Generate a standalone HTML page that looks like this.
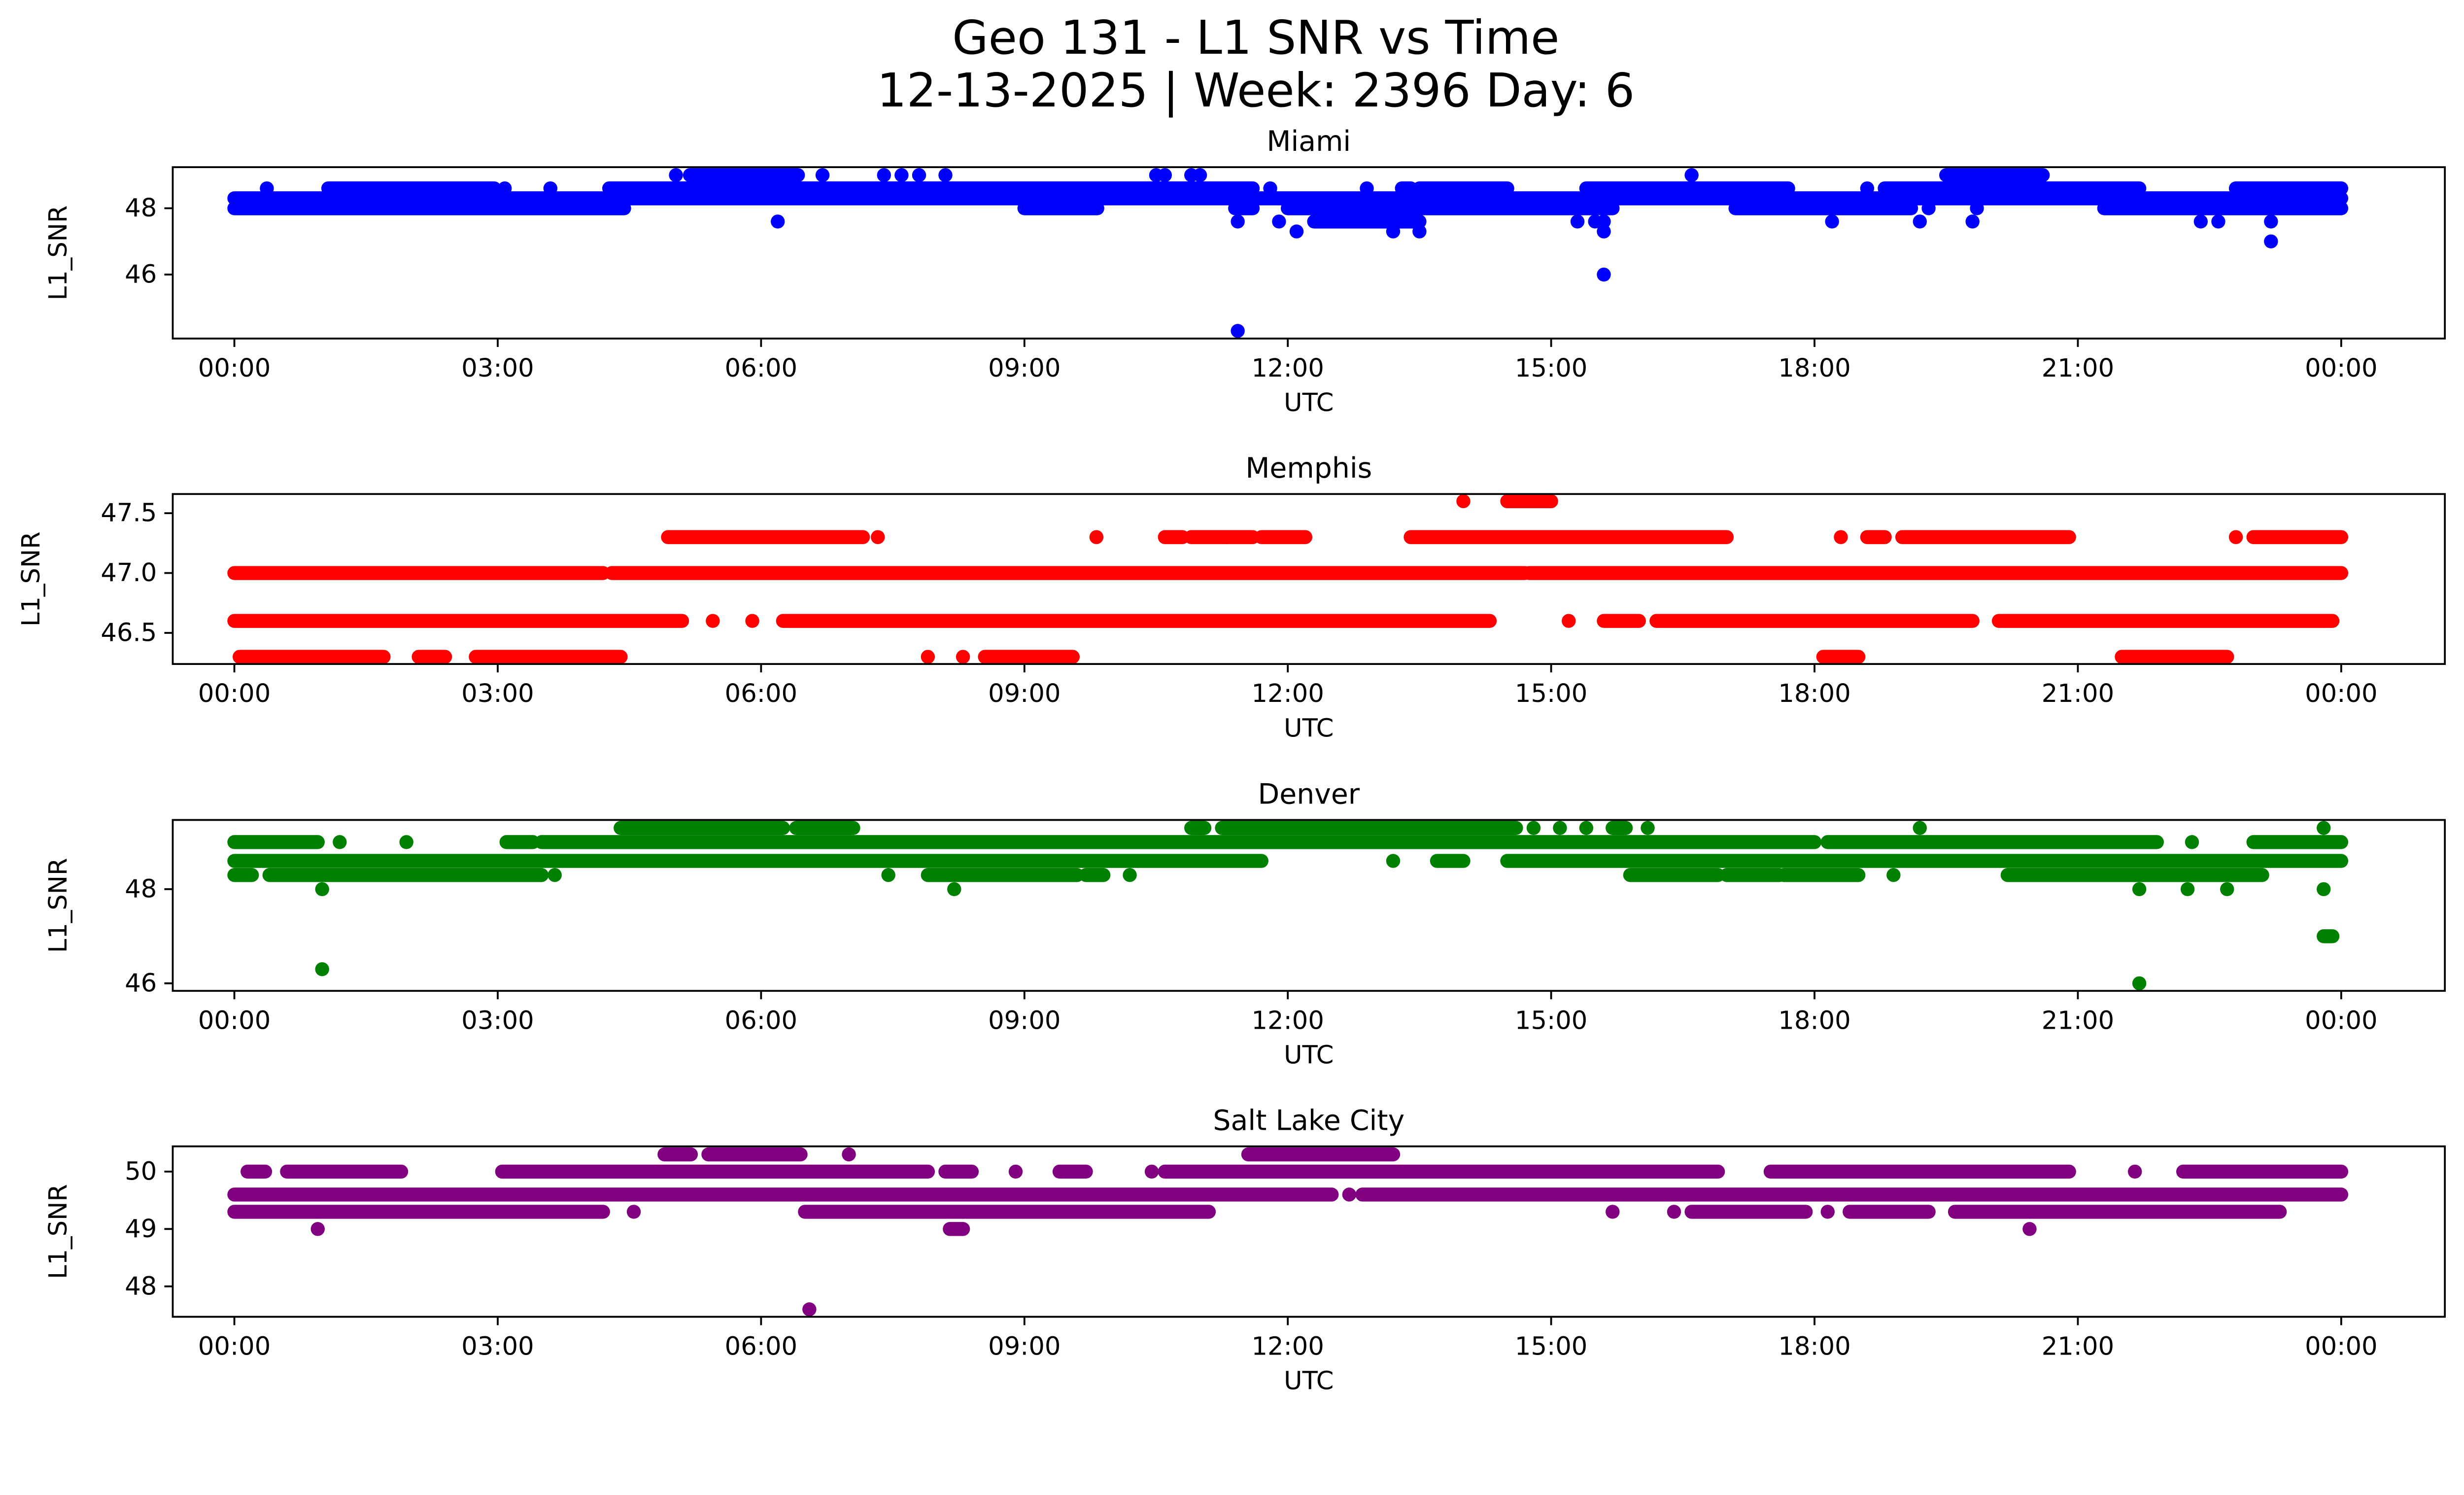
<!DOCTYPE html>
<html><head><meta charset="utf-8"><style>
html,body{margin:0;padding:0;background:#fff;overflow:hidden;}
#chart{display:block;width:100vw;height:calc(100vw * 3033 / 5278);}
svg text{font-family:"DejaVu Sans","Liberation Sans",sans-serif;fill:#000;}
</style></head><body>
<svg id="chart" xmlns="http://www.w3.org/2000/svg" viewBox="0 0 5278 3033" preserveAspectRatio="xMidYMin meet">
<rect x="0" y="0" width="5278" height="3033" fill="#fff"/>
<text x="2690" y="115" font-size="100" text-anchor="middle">Geo 131 - L1 SNR vs Time</text>
<text x="2690" y="228" font-size="100" text-anchor="middle">12-13-2025 | Week: 2396 Day: 6</text>
</svg>
<script>
// x tick labels (hours)
const xTickHours = [0,3,6,9,12,15,18,21,24];
const xTickLabels = ["00:00","03:00","06:00","09:00","12:00","15:00","18:00","21:00","00:00"];

// Miami
const miamiStart = [0,9,11.4,0,1.07,0.37,3.08,3.6,4.27,11.8,12.9,13.3,13.5,15.4,18.6,18.8,22.8,5.03,5.19,6.7,7.4,7.6,7.8,8.1,10.5,10.6,10.9,11.0,16.6,19.5,6.19,11.43,11.9,12.3,15.3,15.5,15.6,18.2,19.2,19.8,22.4,22.6,23.2,12.1,13.2,13.5,15.6,23.2,15.6,11.43,12.0,17.1,19.3,19.85,21.3];
const miamiEnd   = [4.44,9.83,11.6,24,2.96,0.37,3.08,3.6,11.6,11.8,12.9,13.4,14.5,17.7,18.6,21.7,24,5.03,6.42,6.7,7.4,7.6,7.8,8.1,10.5,10.6,10.9,11.0,16.6,20.6,6.19,11.43,11.9,13.5,15.3,15.5,15.6,18.2,19.2,19.8,22.4,22.6,23.2,12.1,13.2,13.5,15.6,23.2,15.6,11.43,15.7,19.1,19.3,19.85,24];
const miamiValue = [48.0,48.0,48.0,48.3,48.6,48.6,48.6,48.6,48.6,48.6,48.6,48.6,48.6,48.6,48.6,48.6,48.6,49.0,49.0,49.0,49.0,49.0,49.0,49.0,49.0,49.0,49.0,49.0,49.0,49.0,47.6,47.6,47.6,47.6,47.6,47.6,47.6,47.6,47.6,47.6,47.6,47.6,47.6,47.3,47.3,47.3,47.3,47.0,46.0,44.3,48.0,48.0,48.0,48.0,48.0];
const miamiTicks = [46,48];

// Memphis
const memphisStart = [14.0,14.5,4.94,7.33,9.82,10.6,10.9,11.3,11.7,13.4,18.3,18.6,19.0,22.8,23.0,0,4.3,14.75,0,5.45,5.9,6.25,15.2,15.6,16.2,20.1,0.06,2.1,2.75,7.9,8.3,8.55,18.1,21.5];
const memphisEnd   = [14.0,15.0,7.16,7.33,9.82,10.8,11.3,11.6,12.2,17.0,18.3,18.8,20.9,22.8,24.0,4.2,14.7,24.0,5.1,5.45,5.9,14.3,15.2,16.0,19.8,23.9,1.7,2.4,4.4,7.9,8.3,9.55,18.5,22.7];
const memphisValue = [47.6,47.6,47.3,47.3,47.3,47.3,47.3,47.3,47.3,47.3,47.3,47.3,47.3,47.3,47.3,47.0,47.0,47.0,46.6,46.6,46.6,46.6,46.6,46.6,46.6,46.6,46.3,46.3,46.3,46.3,46.3,46.3,46.3,46.3];
const memphisTicks = [46.5,47.0,47.5];

// Denver
const denverStart = [4.4,6.4,10.9,11.25,14.8,15.1,15.4,15.7,16.1,19.2,23.8,0,1.2,1.96,3.1,3.5,18.15,22.3,23.0,0,13.2,13.7,14.5,0,0.4,3.65,7.45,7.9,9.7,10.2,15.9,17.0,17.65,18.9,20.2,1.0,8.2,21.7,22.25,22.7,23.8,23.8,1.0,21.7];
const denverEnd   = [6.25,7.05,11.05,14.6,14.8,15.1,15.4,15.85,16.1,19.2,23.8,0.95,1.2,1.96,3.4,18.0,21.9,22.3,24.0,11.7,13.2,14.0,24.0,0.2,3.5,3.65,7.45,9.6,9.9,10.2,16.9,17.6,18.5,18.9,23.1,1.0,8.2,21.7,22.25,22.7,23.8,23.9,1.0,21.7];
const denverValue = [49.3,49.3,49.3,49.3,49.3,49.3,49.3,49.3,49.3,49.3,49.3,49.0,49.0,49.0,49.0,49.0,49.0,49.0,49.0,48.6,48.6,48.6,48.6,48.3,48.3,48.3,48.3,48.3,48.3,48.3,48.3,48.3,48.3,48.3,48.3,48.0,48.0,48.0,48.0,48.0,48.0,47.0,46.3,46.0];
const denverTicks = [46,48];

// Salt Lake City
const slcStart = [4.9,5.4,7.0,11.55,0.15,0.6,3.05,8.1,8.9,9.4,10.45,10.6,17.5,21.65,22.2,0,12.7,12.85,0,4.55,6.5,15.7,16.4,16.6,18.15,18.4,19.6,0.95,8.15,20.45,6.55];
const slcEnd   = [5.2,6.45,7.0,13.2,0.35,1.9,7.9,8.4,8.9,9.7,10.45,16.9,20.9,21.65,24.0,12.5,12.7,24.0,4.2,4.55,11.1,15.7,16.4,17.9,18.15,19.3,23.3,0.95,8.3,20.45,6.55];
const slcValue = [50.3,50.3,50.3,50.3,50.0,50.0,50.0,50.0,50.0,50.0,50.0,50.0,50.0,50.0,50.0,49.6,49.6,49.6,49.3,49.3,49.3,49.3,49.3,49.3,49.3,49.3,49.3,49.0,49.0,49.0,47.6];
const slcTicks = [48,49,50];

const NS = "http://www.w3.org/2000/svg";
const svg = document.getElementById('chart');
const AX_L = 370, AX_R = 5237, X0 = 502, X24 = 5015;
function xScale(h){ return X0 + (X24 - X0) * h / 24; }

const panels = [
  {key:'miami', title:'Miami', top:358, bottom:725, vTop:49.24, vBot:44.07, color:'#0000ff', s:miamiStart, e:miamiEnd, v:miamiValue, ticks:miamiTicks, fmt:0, ylx:125},
  {key:'memphis', title:'Memphis', top:1058, bottom:1422, vTop:47.66, vBot:46.24, color:'#ff0000', s:memphisStart, e:memphisEnd, v:memphisValue, ticks:memphisTicks, fmt:1, ylx:67},
  {key:'denver', title:'Denver', top:1756, bottom:2122, vTop:49.47, vBot:45.84, color:'#008000', s:denverStart, e:denverEnd, v:denverValue, ticks:denverTicks, fmt:0, ylx:125},
  {key:'salt-lake-city', title:'Salt Lake City', top:2455, bottom:2820, vTop:50.44, vBot:47.47, color:'#800080', s:slcStart, e:slcEnd, v:slcValue, ticks:slcTicks, fmt:0, ylx:125}
];

panels.forEach(p => {
  const yScale = v => p.bottom - (v - p.vBot) / (p.vTop - p.vBot) * (p.bottom - p.top);
  const g = document.createElementNS(NS, 'g');
  svg.appendChild(g);
  
  
  const add = (tag, attrs) => { const e = document.createElementNS(NS, tag); for (const k in attrs) e.setAttribute(k, attrs[k]); g.appendChild(e); return e; };

  for (let i = 0; i < p.v.length; i++) {
    const x1 = xScale(p.s[i]), x2 = xScale(p.e[i]), y = yScale(p.v[i]);
    let m;
    if (x2 - x1 < 1) {
      m = add('circle', {cx:x1, cy:y, r:15, fill:p.color});
    } else {
      m = add('line', {x1:x1, y1:y, x2:x2, y2:y, stroke:p.color, 'stroke-width':30, 'stroke-linecap':'round'});
    }
    
    
  }

  const fr = add('rect', {x:AX_L, y:p.top, width:AX_R-AX_L, height:p.bottom-p.top, fill:'none', stroke:'#000', 'stroke-width':4});
  
  

  xTickHours.forEach((h, i) => {
    const x = xScale(h);
    const t = add('line', {x1:x, y1:p.bottom, x2:x, y2:p.bottom+18, stroke:'#000', 'stroke-width':4});
    
    
    const l = add('text', {x:x, y:p.bottom+64, 'font-size':54, 'text-anchor':'middle', 'dominant-baseline':'central'});
    l.textContent = xTickLabels[i];
    
    
  });

  p.ticks.forEach(v => {
    const y = yScale(v);
    const t = add('line', {x1:AX_L-18, y1:y, x2:AX_L, y2:y, stroke:'#000', 'stroke-width':4});
    
    
    const l = add('text', {x:AX_L-34, y:y, 'font-size':54, 'text-anchor':'end', 'dominant-baseline':'central'});
    l.textContent = v.toFixed(p.fmt);
    
    
  });

  const cx = (AX_L + AX_R) / 2;
  const tt = add('text', {x:cx, y:p.top-35, 'font-size':60, 'text-anchor':'middle'});
  tt.textContent = p.title;
  
  

  const xl = add('text', {x:cx, y:p.bottom+138, 'font-size':54, 'text-anchor':'middle', 'dominant-baseline':'central'});
  xl.textContent = 'UTC';
  
  

  const ymid = (p.top + p.bottom) / 2;
  const yl = add('text', {x:p.ylx, y:ymid, 'font-size':54, 'text-anchor':'middle', 'dominant-baseline':'central', transform:'rotate(-90 ' + p.ylx + ' ' + ymid + ')'});
  yl.textContent = 'L1_SNR';
  
  
});
</script>
</body></html>
